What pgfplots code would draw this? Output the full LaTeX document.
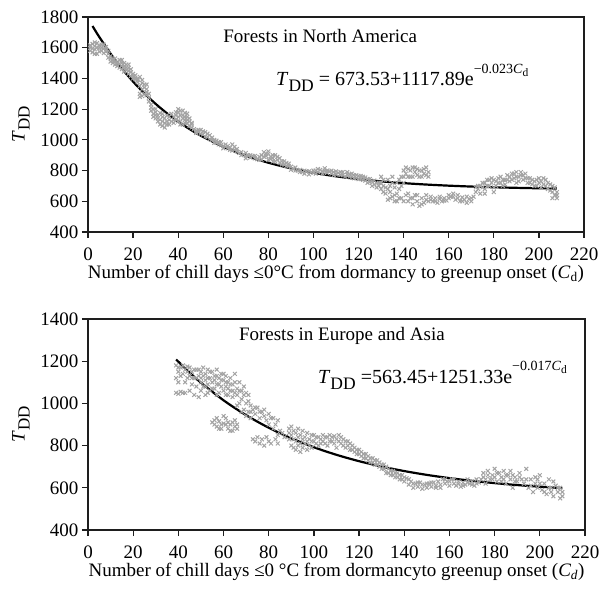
\documentclass[border=0pt]{standalone}
\usepackage{fontspec}
\setmainfont{Liberation Serif}
\usepackage{pgfplots}
\pgfplotsset{compat=1.18}
\definecolor{cloud}{RGB}{163,163,163}
\definecolor{axl}{RGB}{30,30,30}
\newcommand{\F}{\fontsize{19bp}{22bp}\selectfont}
\newcommand{\E}{\fontsize{20bp}{23bp}\selectfont}
\newcommand{\dsub}[1]{\raisebox{-5bp}{\fontsize{17bp}{17bp}\selectfont #1}}
\newcommand{\esub}[1]{\raisebox{-6bp}{\fontsize{17.5bp}{18bp}\selectfont #1}}
\newcommand{\dsup}[1]{\raisebox{12.5bp}{\fontsize{14bp}{14bp}\selectfont #1}}
\newcommand{\ssub}[1]{\raisebox{-3bp}{\fontsize{11.5bp}{12bp}\selectfont #1}}
\pgfplotsset{
  common/.style={
    scale only axis,
    xmin=0, xmax=220,
    xtick={0,20,...,220},
    tick align=outside,
    xtick pos=bottom, ytick pos=left,
    major tick length=6bp,
    axis line style={line width=1.2bp, color=axl},
    every tick/.style={line width=1.2bp, color=axl},
    /pgf/number format/assume math mode=true,
    /pgf/number format/1000 sep={},
    ticklabel style={font=\F},
    xticklabel style={yshift=-6bp},
    label style={font=\F},
    xlabel style={yshift=2bp},
    ylabel style={yshift=4bp},
    clip=false,
  },
  cloudpts/.style={only marks, mark=x, mark size=2.7bp, color=cloud, mark options={line width=1bp}},
  fit/.style={black, line width=2.2bp, smooth},
}
\begin{document}
\begin{tikzpicture}
\useasboundingbox (0,0) rectangle (610bp,589bp);
\begin{axis}[common,
  at={(88bp,357bp)}, anchor=south west,
  width=496bp, height=215bp,
  ymin=400, ymax=1800, ytick={400,600,...,1800},
  xlabel={Number of chill days \mbox{≤0°C} from dormancy to greenup onset (\textit{C}\textsubscript{d})},
  ylabel={\textit{T}\dsub{DD}},
]
\addplot[fit] coordinates {(2,1741.1) (5,1670.0) (10,1561.7) (15,1465.2) (20,1379.3) (25,1302.6) (30,1234.3) (35,1173.3) (40,1119.0) (45,1070.6) (50,1027.5) (60,954.8) (70,897.0) (80,851.1) (90,814.6) (100,785.7) (110,762.6) (120,744.3) (130,729.8) (140,718.2) (150,709.0) (160,701.7) (170,695.9) (180,691.3) (190,687.6) (200,684.7) (208,682.9)};
\addplot[cloudpts] table {
x y
1 1600
1 1580
2 1625
2 1570
3 1610
3 1590
4 1630
4 1560
5 1600
5 1615
6 1580
6 1620
7 1595
7 1565
8 1605
8 1575
9 1560
9 1535
10 1545
10 1510
11 1525
11 1500
12 1530
12 1490
13 1505
13 1480
14 1520
14 1470
15 1500
15 1460
16 1480
16 1445
17 1490
17 1455
18 1470
18 1430
19 1460
19 1415
20 1430
20 1400
21 1420
21 1395
22 1400
22 1375
23 1410
23 1300
24 1370
24 1285
25 1360
25 1340
26 1330
26 1290
27 1300
27 1250
28 1230
28 1210
29 1200
29 1170
30 1180
30 1140
31 1160
31 1120
32 1175
32 1100
33 1150
33 1090
34 1140
34 1110
35 1160
35 1120
36 1130
36 1100
37 1120
37 1170
38 1150
38 1110
39 1180
39 1130
40 1200
40 1150
41 1190
41 1120
42 1160
42 1100
43 1175
43 1130
44 1150
44 1110
45 1140
45 1090
46 1110
46 1080
47 1070
48 1060
49 1050
50 1040
50 1065
51 1035
52 1050
52 1020
53 1040
54 1030
54 1005
55 1015
56 1000
56 980
57 995
58 985
58 970
59 965
60 960
61 955
62 945
63 950
64 970
64 930
65 935
66 925
67 915
68 920
69 905
70 895
70 915
71 900
72 885
73 895
74 880
75 875
76 890
77 900
77 870
78 920
79 895
80 910
80 870
81 890
82 880
83 900
83 860
84 870
85 850
86 860
87 840
88 850
89 830
90 825
91 810
92 820
93 800
94 805
95 790
96 780
97 795
98 775
99 790
100 785
101 800
102 790
103 805
104 795
105 800
106 785
107 795
108 780
109 790
110 775
111 785
112 770
113 790
114 760
115 775
116 760
117 780
118 750
119 770
120 745
121 765
122 740
123 755
124 720
125 745
126 700
127 735
128 690
129 720
130 680
130 760
131 700
132 650
133 740
134 620
134 700
135 760
136 640
137 720
137 600
138 680
139 620
139 760
140 800
140 720
141 780
141 640
142 810
142 600
143 760
143 620
144 820
144 580
145 790
145 640
146 810
146 600
147 760
147 570
148 800
148 620
149 780
149 590
150 820
150 640
151 790
151 600
152 610
153 600
154 620
155 590
156 615
157 600
158 620
159 605
160 640
161 630
162 650
163 610
164 640
165 600
166 625
167 610
168 590
169 615
170 600
171 630
172 660
173 700
174 650
175 720
176 680
177 740
178 700
179 750
180 690
181 730
182 720
183 760
184 700
185 740
186 770
187 730
188 780
189 750
190 790
191 760
192 770
193 740
194 780
195 750
196 720
197 740
198 700
199 740
200 720
201 690
202 750
203 700
204 720
205 670
206 700
207 640
208 660
208 620
1 1615
2 1595
3 1635
3 1560
4 1600
5 1575
6 1600
7 1620
8 1590
9 1580
10 1530
11 1515
12 1510
13 1495
14 1495
15 1480
16 1465
17 1470
18 1450
19 1440
20 1415
21 1405
16 1500
18 1490
15 1520
22 1390
23 1350
24 1330
25 1300
26 1310
27 1275
24 1390
26 1360
23 1280
28 1190
29 1150
30 1160
31 1140
32 1130
33 1120
34 1080
35 1100
36 1150
30 1200
33 1170
38 1130
39 1160
40 1120
40 1180
41 1160
42 1140
42 1190
43 1150
44 1130
45 1120
46 1100
41 1100
43 1110
44 1170
48 1045
49 1065
51 1055
53 1020
55 1000
57 980
59 985
60 945
61 970
62 960
63 935
65 955
66 940
68 900
70 880
72 900
74 895
76 870
78 890
79 910
81 875
82 900
84 890
85 880
86 840
87 860
88 830
89 845
80 925
82 860
90 805
92 800
94 790
96 800
98 795
100 800
101 780
102 810
104 780
105 815
106 800
108 800
109 770
110 795
112 790
113 770
115 790
116 775
117 760
118 770
119 750
120 765
121 745
122 760
123 735
124 745
125 725
126 730
127 710
128 720
129 700
130 720
131 740
132 690
133 680
134 660
135 720
135 630
136 690
137 650
138 740
138 620
139 700
131 660
133 610
136 600
140 760
141 820
142 760
143 800
144 760
145 820
146 770
147 800
148 760
149 810
150 770
151 760
140 600
142 650
144 620
146 640
148 580
150 610
152 630
154 600
156 630
158 605
160 620
162 630
164 620
166 600
168 630
170 620
172 690
173 680
174 700
175 690
176 720
177 700
178 740
179 720
180 740
181 700
182 750
183 720
184 740
185 710
176 650
180 660
186 740
187 760
188 740
189 780
190 760
191 730
192 790
193 770
194 750
195 720
196 750
197 710
190 720
198 730
199 700
200 750
201 730
202 710
203 740
204 680
205 710
206 660
207 690
208 640
206 620
};
\node[anchor=base, font=\F] at (axis cs:103,1637) {Forests in North America};
\node[anchor=base west, font=\E, inner sep=0pt] at (axis cs:83.4,1351) {\textit{T}\esub{DD} = 673.53+1117.89e\dsup{−0.023\textit{C}\ssub{d}}};
\end{axis}

\begin{axis}[common,
  at={(88bp,59bp)}, anchor=south west,
  width=497bp, height=211bp,
  ymin=400, ymax=1400, ytick={400,600,...,1400},
  xlabel={Number of chill days \mbox{≤0 °C} from dormancyto greenup onset (\textit{C\textsubscript{d}})},
  ylabel={\textit{T}\dsub{DD}},
]
\addplot[fit] coordinates {(39,1208.3) (45,1145.7) (50,1098.3) (60,1014.7) (70,944.1) (80,884.7) (90,834.4) (100,792.1) (110,756.3) (120,726.1) (130,700.7) (140,679.3) (150,661.2) (160,645.9) (170,633.0) (180,622.2) (190,613.0) (200,605.2) (210,598.7)};
\addplot[cloudpts] table {
x y
39 1180
39 1050
40 1150
40 1045
41 1170
41 1055
42 1140
42 1050
43 1160
43 1100
44 1175
44 1120
45 1130
45 1060
46 1150
46 1090
47 1120
47 1040
48 1160
48 1080
49 1130
49 1030
50 1150
50 1100
50 1060
51 1170
51 1080
52 1140
52 1110
52 1040
53 1160
53 1090
54 1120
54 1060
55 1150
55 1100
55 910
56 1130
56 1070
56 920
57 1160
57 1090
57 890
58 1120
58 1050
58 915
59 1140
59 1080
59 880
60 1110
60 1060
60 905
61 1130
61 1080
61 930
62 1100
62 1040
62 880
63 1120
63 1060
63 900
64 1090
64 1030
64 870
65 1140
65 1050
65 920
66 1070
66 990
66 880
67 1100
67 1000
68 1060
68 960
69 1080
69 970
70 1050
70 940
71 1040
71 960
72 990
72 930
73 970
73 830
74 950
74 820
75 980
75 840
76 930
76 810
77 960
77 830
78 940
78 800
79 920
80 900
80 820
81 930
82 880
83 900
84 850
85 870
86 860
87 840
89 880
89 830
90 890
90 800
91 870
91 790
92 860
92 780
93 880
93 800
94 850
94 770
95 870
95 790
96 840
97 860
97 780
98 830
99 850
99 790
100 820
101 840
102 800
103 830
104 820
105 840
106 800
107 850
108 820
109 845
110 790
111 850
112 810
113 830
114 790
115 820
116 780
117 800
118 770
119 780
120 760
121 770
122 740
123 760
124 730
125 740
126 720
127 710
128 730
129 700
130 690
131 710
132 670
133 690
134 660
135 680
136 650
137 670
138 640
139 660
140 630
141 645
142 615
143 630
144 600
145 620
146 605
147 625
148 595
149 615
150 600
151 620
152 605
153 625
154 610
155 630
156 615
157 640
158 620
159 630
160 610
161 640
162 620
163 610
164 630
165 605
166 625
167 615
168 640
169 620
170 630
171 610
172 640
173 625
174 640
175 670
176 620
177 680
178 640
179 660
180 690
181 630
182 670
183 650
184 680
185 620
186 660
187 640
188 600
189 650
190 630
191 670
192 640
193 620
194 690
195 600
196 640
197 580
198 620
199 600
200 660
201 590
202 620
203 570
204 640
205 600
206 560
207 610
208 580
209 550
209 600
39 1120
40 1100
41 1130
42 1180
43 1050
44 1150
45 1170
46 1120
47 1160
48 1120
49 1160
40 1170
50 1120
51 1130
52 1080
53 1120
54 1150
55 1070
56 1110
57 1130
58 1090
59 1110
60 1140
61 1100
62 1070
63 1090
64 1060
65 1100
66 1040
67 1060
68 1020
69 1040
70 1000
71 1010
53 1050
57 1040
61 1040
56 900
57 930
58 880
59 900
60 940
61 900
62 910
63 870
64 910
65 890
66 900
72 960
74 980
76 960
78 970
80 950
82 930
84 920
79 840
81 810
83 830
84 810
89 860
90 850
91 830
92 820
93 840
94 810
95 830
96 810
97 820
98 800
99 820
100 850
101 810
102 840
103 810
104 850
105 810
106 840
107 820
108 840
109 810
110 830
111 820
112 840
113 800
114 820
115 800
116 810
117 780
118 790
119 760
120 780
121 750
122 760
123 740
124 750
125 720
126 740
127 730
128 710
129 720
130 710
131 690
132 700
133 670
134 680
135 660
136 670
137 650
138 660
139 640
140 650
142 640
144 620
146 625
148 615
150 620
152 625
154 600
156 600
158 640
160 630
162 640
164 620
166 610
168 625
170 615
172 620
175 650
177 660
179 640
181 670
183 630
185 660
187 680
189 630
191 650
176 640
180 650
184 640
188 660
194 640
196 610
198 650
200 620
202 580
204 600
206 630
208 600
210 580
210 560
199 640
205 580
};
\node[anchor=base, font=\F] at (axis cs:112.4,1296) {Forests in Europe and Asia};
\node[anchor=base west, font=\E, inner sep=0pt] at (axis cs:101.8,1095) {\textit{T}\esub{DD} =563.45+1251.33e\dsup{−0.017\textit{C}\ssub{d}}};
\end{axis}
\end{tikzpicture}
\end{document}
